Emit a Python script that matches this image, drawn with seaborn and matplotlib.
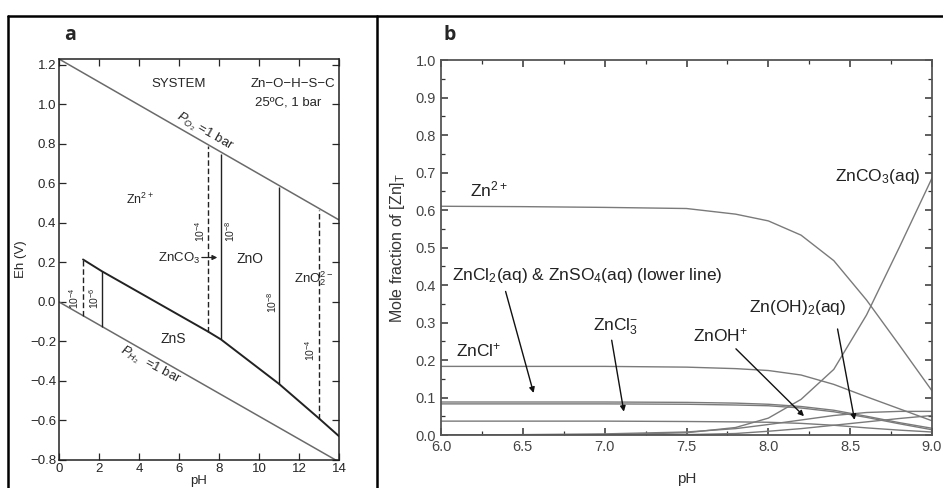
import matplotlib.pyplot as plt
import numpy as np
import pandas as pd
import seaborn as sns
from matplotlib.lines import Line2D
from matplotlib.ticker import MultipleLocator

sns.set_style("ticks")
plt.rcParams.update(
    {
        "mathtext.fontset": "custom",
        "mathtext.rm": "Liberation Sans",
        "mathtext.it": "Liberation Sans:italic",
        "mathtext.bf": "Liberation Sans:bold",
        "axes.unicode_minus": True,
    }
)
plt.rcParams["font.family"] = ["Liberation Sans", "DejaVu Sans"]

# ---- panel a: Eh-pH diagram Zn-O-H-S-C ----
o2_ph = [0.0, 14.0]
o2_eh = [1.23, 0.415]
h2_ph = [0.0, 14.0]
h2_eh = [0.0, -0.81]
zns_ph = [1.2, 2.15, 7.45, 8.1, 11.0, 13.0, 14.0]
zns_eh = [0.215, 0.155, -0.15, -0.19, -0.415, -0.59, -0.68]
vert_ph = [1.2, 2.15, 7.45, 8.1, 11.0, 13.0]
vert_lo = [-0.07, -0.125, -0.15, -0.19, -0.415, -0.59]
vert_hi = [0.215, 0.155, 0.79, 0.75, 0.58, 0.465]
vert_dashed = [True, False, True, False, False, True]
conc_labels = ["$10^{-4}$", "$10^{-6}$", "$10^{-4}$", "$10^{-8}$", "$10^{-8}$", "$10^{-4}$"]

# ---- panel b: Zn speciation vs pH ----
ph_b = [6.0, 6.5, 7.0, 7.5, 7.8, 8.0, 8.2, 8.4, 8.6, 8.8, 9.0]
zn2 = [0.61, 0.609, 0.607, 0.604, 0.589, 0.571, 0.533, 0.465, 0.36, 0.24, 0.118]
znco3 = [0.0, 0.0, 0.001, 0.006, 0.02, 0.045, 0.095, 0.175, 0.32, 0.50, 0.685]
zncl = [0.183, 0.183, 0.183, 0.181, 0.177, 0.172, 0.16, 0.135, 0.102, 0.07, 0.038]
zncl2 = [0.088, 0.088, 0.088, 0.087, 0.085, 0.082, 0.076, 0.066, 0.05, 0.033, 0.018]
znso4 = [0.083, 0.083, 0.083, 0.082, 0.08, 0.078, 0.072, 0.062, 0.047, 0.03, 0.014]
zncl3 = [0.037, 0.037, 0.037, 0.036, 0.035, 0.034, 0.031, 0.026, 0.019, 0.013, 0.008]
znoh = [0.0, 0.001, 0.003, 0.008, 0.017, 0.028, 0.04, 0.052, 0.06, 0.063, 0.063]
znoh2 = [0.0, 0.0, 0.0, 0.001, 0.004, 0.01, 0.017, 0.026, 0.035, 0.044, 0.052]

species = {
    "Zn2+": zn2, "ZnCO3": znco3, "ZnCl+": zncl, "ZnCl2": zncl2,
    "ZnSO4": znso4, "ZnCl3-": zncl3, "ZnOH+": znoh, "Zn(OH)2": znoh2,
}
df_b = pd.concat(
    [pd.DataFrame({"pH": ph_b, "frac": v, "species": k}) for k, v in species.items()]
)

fig = plt.figure(figsize=(9.43, 4.88), dpi=100)
ax_a = fig.add_axes([0.0626, 0.0574, 0.2970, 0.8217])
ax_b = fig.add_axes([0.4677, 0.1086, 0.5206, 0.7684])

# panel a
line_gray = "#6a6a6a"
sns.lineplot(x=o2_ph, y=o2_eh, ax=ax_a, color=line_gray, lw=1.1)
sns.lineplot(x=h2_ph, y=h2_eh, ax=ax_a, color=line_gray, lw=1.1)
sns.lineplot(x=zns_ph, y=zns_eh, ax=ax_a, color="#222222", lw=1.4, sort=False)
for x, lo, hi, dashed in zip(vert_ph, vert_lo, vert_hi, vert_dashed):
    ax_a.vlines(x, lo, hi, colors="#222222", lw=1.0,
                linestyles=(0, (4, 2)) if dashed else "solid")

conc_pos = [(0.75, 0.02), (1.75, 0.02), (7.05, 0.36), (8.55, 0.36), (10.65, 0.0), (12.55, -0.245)]
for (x, y), lab in zip(conc_pos, conc_labels):
    ax_a.text(x, y, lab, rotation=90, ha="center", va="center", fontsize=7.5)

ax_a.text(6.0, 1.105, "SYSTEM", ha="center", va="center", fontsize=9.5)
ax_a.text(13.8, 1.105, "Zn\u2212O\u2212H\u2212S\u2212C", ha="right", va="center", fontsize=9.5)
ax_a.text(13.1, 1.01, "25ºC, 1 bar", ha="right", va="center", fontsize=9.5)
ax_a.text(4.05, 0.52, "Zn$^{2+}$", ha="center", va="center", fontsize=9)
ax_a.text(6.0, 0.22, "ZnCO$_3$", ha="center", va="center", fontsize=9.5)
ax_a.annotate("", xy=(8.05, 0.225), xytext=(7.0, 0.225),
              arrowprops=dict(arrowstyle="-|>", color="#222222", lw=0.9, mutation_scale=7))
ax_a.text(9.55, 0.22, "ZnO", ha="center", va="center", fontsize=10)
ax_a.text(12.75, 0.12, "ZnO$_2^{2-}$", ha="center", va="center", fontsize=9.5)
ax_a.text(5.7, -0.19, "ZnS", ha="center", va="center", fontsize=10)
ax_a.text(7.3, 0.86, "$P_{O_2}$ =1 bar", rotation=-30, ha="center", va="center", fontsize=9.5)
ax_a.text(4.55, -0.32, "$P_{H_2}$  =1 bar", rotation=-28, ha="center", va="center", fontsize=9.5)

ax_a.set_xlim(0, 14)
ax_a.set_ylim(-0.8, 1.23)
ax_a.xaxis.set_major_locator(MultipleLocator(2))
ax_a.yaxis.set_major_locator(MultipleLocator(0.2))
ax_a.yaxis.set_major_formatter(plt.FuncFormatter(lambda v, p: f"{v:.1f}".replace("-", "\u2212")))
ax_a.tick_params(direction="in", top=True, right=True, length=5, width=0.9,
                 labelsize=9.5, pad=2)
ax_a.set_xlabel("pH", fontsize=9.5, labelpad=0)
ax_a.set_ylabel("Eh (V)", fontsize=9.5, labelpad=2)
for s in ax_a.spines.values():
    s.set_color("#222222")
    s.set_linewidth(1.1)

# panel b
sns.lineplot(data=df_b, x="pH", y="frac", hue="species",
             palette=["#7a7a7a"] * len(species), lw=1.0, legend=False, ax=ax_b,
             estimator=None)
ax_b.set_xlim(6.0, 9.0)
ax_b.set_ylim(0.0, 1.0)
ax_b.xaxis.set_major_locator(MultipleLocator(0.5))
ax_b.xaxis.set_minor_locator(MultipleLocator(0.25))
ax_b.yaxis.set_major_locator(MultipleLocator(0.1))
ax_b.yaxis.set_minor_locator(MultipleLocator(0.05))
ax_b.xaxis.set_major_formatter(plt.FuncFormatter(lambda v, p: f"{v:.1f}"))
ax_b.yaxis.set_major_formatter(plt.FuncFormatter(lambda v, p: f"{v:.1f}"))
ax_b.tick_params(which="both", direction="in", top=True, right=True,
                 color="#333333", labelcolor="#444444", labelsize=10.5)
ax_b.tick_params(which="major", length=5, width=1.1)
ax_b.tick_params(which="minor", length=3, width=0.9)
ax_b.set_xlabel("pH", fontsize=11, color="#333333", labelpad=13)
ax_b.set_ylabel("Mole fraction of [Zn]$_\\mathregular{T}$", fontsize=11.5,
                color="#333333", labelpad=6)
for s in ax_b.spines.values():
    s.set_color("#555555")
    s.set_linewidth(1.3)

txt = dict(fontsize=12.5, color="#222222", va="center")
arrow = dict(arrowstyle="-|>", color="#111111", lw=1.0, mutation_scale=8)
ax_b.text(6.18, 0.655, "Zn$^{2+}$", ha="left", **txt)
ax_b.text(8.93, 0.69, "ZnCO$_3$(aq)", ha="right", **txt)
ax_b.text(6.07, 0.425, "ZnCl$_2$(aq) & ZnSO$_4$(aq) (lower line)", ha="left", **txt)
ax_b.annotate("", xy=(6.57, 0.105), xytext=(6.39, 0.39), arrowprops=arrow)
ax_b.text(6.09, 0.225, "ZnCl$^{+}$", ha="left", **txt)
ax_b.text(6.93, 0.29, "ZnCl$_3^{-}$", ha="left", **txt)
ax_b.annotate("", xy=(7.12, 0.055), xytext=(7.04, 0.26), arrowprops=arrow)
ax_b.text(7.54, 0.265, "ZnOH$^{+}$", ha="left", **txt)
ax_b.annotate("", xy=(8.23, 0.045), xytext=(7.79, 0.235), arrowprops=arrow)
ax_b.text(7.88, 0.34, "Zn(OH)$_2$(aq)", ha="left", **txt)
ax_b.annotate("", xy=(8.53, 0.033), xytext=(8.42, 0.29), arrowprops=arrow)

# panel letters and outer frame
fig.text(0.068, 0.928, "a", fontsize=14, fontweight="bold", family=["Open Sans", "DejaVu Sans"],
         va="center")
fig.text(0.470, 0.928, "b", fontsize=14, fontweight="bold", family=["Open Sans", "DejaVu Sans"],
         va="center")
frame = dict(color="black", lw=1.8, transform=fig.transFigure)
fig.add_artist(Line2D([0.0085, 1.0], [0.967, 0.967], **frame))
fig.add_artist(Line2D([0.0085, 0.0085], [0.0, 0.967], **frame))
fig.add_artist(Line2D([0.3998, 0.3998], [0.0, 0.967], **frame))

fig.savefig("out.png", dpi=100)
plt.close(fig)
